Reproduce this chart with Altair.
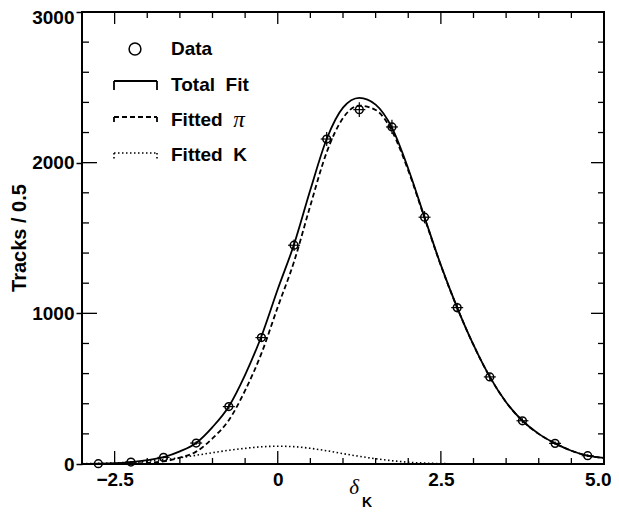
import altair as alt
import pandas as pd

# ---------------- data ----------------
bin_centers = [-2.75, -2.25, -1.75, -1.25, -0.75, -0.25, 0.25, 0.75,
               1.25, 1.75, 2.25, 2.75, 3.25, 3.75, 4.25, 4.75]
tracks = [2, 13, 44, 139, 381, 839, 1452, 2157,
          2352, 2237, 1638, 1038, 578, 287, 137, 55]
tracks_err = [1.5, 3.6, 6.6, 11.8, 19.5, 29, 38, 46.4,
              48.5, 47.3, 40.5, 32.2, 24, 17, 11.7, 7.4]

curve_x = [-3.0, -2.75, -2.5, -2.25, -2.0, -1.75, -1.5, -1.25, -1.0, -0.75,
           -0.5, -0.25, 0.0, 0.25, 0.5, 0.75, 1.0, 1.25, 1.5, 1.75,
           2.0, 2.25, 2.5, 2.75, 3.0, 3.25, 3.5, 3.75, 4.0, 4.25,
           4.5, 4.75, 5.0]
total_fit = [1, 2, 5, 13, 26, 46, 84, 140, 245, 382,
             592, 848, 1160, 1458, 1820, 2157, 2365, 2430, 2385, 2232,
             1960, 1638, 1320, 1038, 790, 578, 410, 287, 200, 137,
             88, 55, 40]
fitted_pi = [0, 0, 0, 2, 8, 17, 42, 82, 170, 291,
             488, 734, 1042, 1343, 1716, 2069, 2296, 2379, 2350, 2210,
             1948, 1632, 1317, 1037, 790, 578, 410, 287, 200, 137,
             88, 55, 40]
k_x = [-3.0, -2.75, -2.5, -2.25, -2.0, -1.75, -1.5, -1.25, -1.0, -0.75,
       -0.5, -0.25, 0.0, 0.25, 0.5, 0.75, 1.0, 1.25, 1.5, 1.75,
       2.0, 2.25, 2.5, 2.75, 3.0]
fitted_k = [2, 4, 7, 12, 19, 29, 42, 58, 75, 91,
            104, 114, 118, 115, 104, 88, 69, 51, 35, 22,
            12, 6, 3, 1, 0]

x_label_values = [-2.5, 0.0, 2.5, 5.0]
y_label_values = [0, 1000, 2000, 3000]
x_minor_ticks = [-2.0, -1.5, -1.0, -0.5, 0.5, 1.0, 1.5, 2.0, 3.0, 3.5, 4.0, 4.5]
x_major_ticks = [-2.5, 0.0, 2.5]
y_minor_ticks = [200, 400, 600, 800, 1200, 1400, 1600, 1800,
                 2200, 2400, 2600, 2800]
y_major_ticks = [1000, 2000]

legend_labels = ["Data", "Total\u00a0 Fit", "Fitted", "Fitted\u00a0 K"]
y_title = "Tracks / 0.5"
x_title_main = "\u03b4"
x_title_sub = "K"
pi_symbol = "\u03c0"

# ---------------- chart ----------------
W, H = 522, 452
FONT = "Liberation Sans"

xs = alt.Scale(domain=[-3, 5], nice=False, zero=False)
ys = alt.Scale(domain=[0, 3000], nice=False, zero=False)

curves = pd.DataFrame({"x": curve_x, "total": total_fit, "pi": fitted_pi})
kdf = pd.DataFrame({"x": k_x, "k": fitted_k})
pts = pd.DataFrame({"x": bin_centers, "y": tracks, "e": tracks_err})

x_axis = alt.Axis(values=x_label_values,
                  labelExpr="datum.value == 0 ? '0' : format(datum.value, '.1f')",
                  ticks=False, tickSize=0, domain=False, grid=False,
                  labelFlush=True, labelFlushOffset=7, labelPadding=6, labelFont=FONT,
                  labelFontWeight="bold", labelFontSize=19, labelColor="black",
                  title="")
y_axis = alt.Axis(values=y_label_values, format="d", tickSize=6, tickWidth=1.5,
                  tickColor="black", domain=False, grid=False, labelPadding=2,
                  labelOffset={"condition": {"test": "datum.value == 3000", "value": 5},
                               "value": 0},
                  labelFont=FONT, labelFontWeight="bold", labelFontSize=19,
                  labelColor="black", title="")


def X(field):
    return alt.X(field, scale=xs, axis=x_axis)


def Y(field):
    return alt.Y(field, scale=ys, axis=y_axis)


total_line = alt.Chart(curves).mark_line(
    color="black", strokeWidth=1.8, interpolate="monotone").encode(
    x=X("x:Q"), y=Y("total:Q"))

pi_line = alt.Chart(curves).mark_line(
    color="black", strokeWidth=1.8, strokeDash=[5, 3], interpolate="monotone").encode(
    x=X("x:Q"), y=Y("pi:Q"))

k_line = alt.Chart(kdf).mark_line(
    color="black", strokeWidth=1.6, strokeDash=[1.5, 2.5], interpolate="monotone").encode(
    x=X("x:Q"), y=Y("k:Q"))

base_pts = alt.Chart(pts).transform_calculate(lo="datum.y - datum.e", hi="datum.y + datum.e")
err_v = base_pts.mark_rule(color="black", strokeWidth=1.2).encode(
    x=X("x:Q"), y=Y("lo:Q"), y2="hi:Q")
err_h = alt.Chart(pts).mark_tick(orient="horizontal", color="black", size=12,
                                 thickness=1.2, opacity=1).encode(
    x=X("x:Q"), y=Y("y:Q"))
circles = alt.Chart(pts).mark_point(shape="circle", filled=False, color="black",
                                    size=60, strokeWidth=1.5, opacity=1).encode(
    x=X("x:Q"), y=Y("y:Q"))


# inward ticks on all four sides
def xtick(values, y0, y1):
    return alt.Chart(pd.DataFrame({"v": values})).mark_rule(color="black", strokeWidth=1.3).encode(
        x=X("v:Q"), y=alt.value(y0), y2=alt.value(y1))


def ytick(values, x0, x1):
    return alt.Chart(pd.DataFrame({"v": values})).mark_rule(color="black", strokeWidth=1.3).encode(
        y=Y("v:Q"), x=alt.value(x0), x2=alt.value(x1))


ticks = [
    xtick(x_minor_ticks, H, H - 6), xtick(x_major_ticks, H, H - 13),
    xtick(x_minor_ticks, 0, 6), xtick(x_major_ticks, 0, 12),
    ytick(y_minor_ticks, 0, 7), ytick(y_major_ticks, 0, 15),
    ytick(y_minor_ticks, W, W - 6), ytick(y_major_ticks, W, W - 13),
]


# legend
def txt(s, x, y, size=19, font=FONT, weight="bold", style="normal", align="left", angle=0):
    return alt.Chart(pd.DataFrame({"t": [s]})).mark_text(
        font=font, fontSize=size, fontWeight=weight, fontStyle=style, align=align,
        baseline="middle", color="black", angle=angle).encode(
        text="t:N", x=alt.value(x), y=alt.value(y))


def seg(x0, x1, y0, y1, dash=None, width=1.8):
    kw = {"color": "black", "strokeWidth": width}
    if dash:
        kw["strokeDash"] = dash
    return alt.Chart(pd.DataFrame({"a": [0]})).mark_rule(**kw).encode(
        x=alt.value(x0), x2=alt.value(x1), y=alt.value(y0), y2=alt.value(y1))


legend_circle = alt.Chart(pd.DataFrame({"a": [0]})).mark_point(
    shape="circle", filled=False, color="black", size=140, strokeWidth=1.5, opacity=1).encode(
    x=alt.value(53), y=alt.value(37))

legend = [
    legend_circle,
    txt(legend_labels[0], 89, 37),
    seg(32, 75, 69, 69), seg(32, 32, 69, 78), seg(75, 75, 69, 78),
    txt(legend_labels[1], 89, 73),
    seg(32, 75, 105, 105, [5, 3]), seg(32, 32, 105, 113, [5, 3]), seg(75, 75, 105, 113, [5, 3]),
    txt(legend_labels[2], 89, 108),
    txt(pi_symbol, 157, 108, size=23, font="Liberation Serif", weight="normal", style="italic", align="center"),
    seg(32, 75, 141, 141, [1.5, 2.5], 1.6), seg(32, 32, 141, 147, [1.5, 2.5], 1.6),
    seg(75, 75, 141, 147, [1.5, 2.5], 1.6),
    txt(legend_labels[3], 89, 143),
]

titles = [
    txt(y_title, -62, 226, size=20, align="center", angle=270),
    txt(x_title_main, 272, 476, size=21, font="Liberation Serif", weight="normal",
        style="italic", align="center"),
    txt(x_title_sub, 285, 491, size=14, align="center"),
]

chart = alt.layer(
    total_line, pi_line, k_line, err_v, err_h, circles, *ticks, *legend, *titles
).properties(
    width=W, height=H,
    autosize=alt.AutoSizeParams(type="none"),
    padding={"left": 74, "top": 4, "right": 7, "bottom": 47},
).configure_view(stroke="black", strokeWidth=2)

chart.save("out.html", embed_options={"renderer": "svg", "actions": False})
